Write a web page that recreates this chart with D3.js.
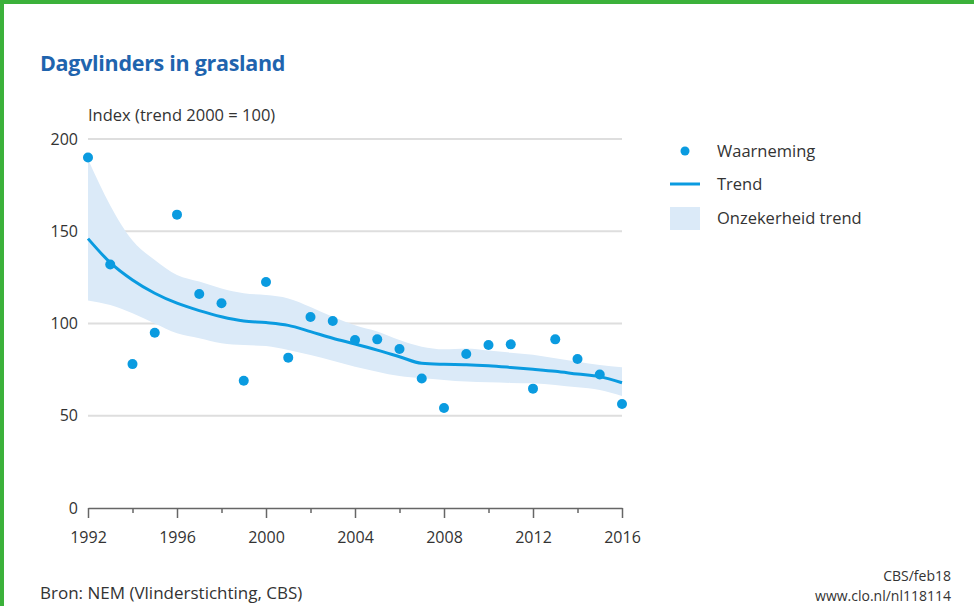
<!DOCTYPE html>
<html>
<head>
<meta charset="utf-8">
<script src="https://cdn.jsdelivr.net/npm/d3@7"></script>
<style>
    body { margin: 0; background: #fff; }
    text { font-family: "Open Sans", "Noto Sans", sans-serif; fill: #333; }
</style>
</head>
<body>
<svg id="chart" width="974" height="606"></svg>
<script>
// observed index per year
const years = d3.range(1992, 2017);
const observed = [190, 132, 78, 95, 159, 116, 111, 69, 122.5, 81.5, 103.5, 101.4, 91, 91.4, 86.2,
    70.2, 54.2, 83.5, 88.3, 88.7, 64.7, 91.4, 80.8, 72.4, 56.4];
const trend = [146, 133, 123.6, 116.4, 111, 107, 103.7, 101.4, 100.5, 99, 95.6, 92, 88.9, 85.6, 82,
    78.4, 77.9, 77.7, 77.1, 76.2, 75.2, 74.1, 72.6, 71.2, 67.9];
const upper = [189, 164, 145, 134.4, 126.3, 122.7, 119, 116.4, 115.4, 113.6, 109, 103.7, 99, 95.6, 91,
    87.4, 86, 86.5, 85.3, 84.2, 83, 81.1, 79.3, 77.5, 76.3];
const lower = [112.5, 110, 105.5, 100, 94.7, 92, 89.3, 88.3, 87.8, 85.6, 82.9, 79.8, 76.6, 73.9, 71.5,
    70.3, 69.4, 68.5, 68.1, 67.8, 67.6, 66.7, 65.4, 64, 60.7];
const yTicks = [0, 50, 100, 150, 200];
const xMajor = [1992, 1996, 2000, 2004, 2008, 2012, 2016];
const legendItems = ["Waarneming", "Trend", "Onzekerheid trend"];

const blue = "#0a9be0";
const band = "#dbeaf8";

let svg = d3.select("#chart");

// green frame on the top and left
svg.append("rect").attr("x", 0).attr("y", 0).attr("width", 974).attr("height", 4).attr("fill", "#3bb13a");
svg.append("rect").attr("x", 0).attr("y", 0).attr("width", 4).attr("height", 606).attr("fill", "#3bb13a");

let x = d3.scaleLinear().domain([1992, 2016]).range([88, 622]);
let y = d3.scaleLinear().domain([0, 200]).range([508, 139]);

// title
svg.append("text")
    .attr("x", 40).attr("y", 71)
    .attr("font-size", "21.5px")
    .attr("font-weight", "bold")
    .style("fill", "#1f64ae")
    .style("letter-spacing", "-0.3px")
    .text("Dagvlinders in grasland");

svg.append("text")
    .attr("x", 88).attr("y", 121)
    .attr("font-size", "16.5px")
    .text("Index (trend 2000 = 100)");

// grid
svg.append("g").selectAll("line")
    .data(yTicks.filter(d => d > 0))
    .join("line")
    .attr("x1", x(1992)).attr("x2", x(2016))
    .attr("y1", d => y(d)).attr("y2", d => y(d))
    .attr("stroke", "#dedede").attr("stroke-width", 2);

// y labels
svg.append("g").selectAll("text")
    .data(yTicks)
    .join("text")
    .attr("x", 78).attr("y", d => y(d))
    .attr("dy", "0.35em")
    .attr("text-anchor", "end")
    .attr("font-size", "16px")
    .text(d => d);

// uncertainty band
let area = d3.area()
    .x((d, i) => x(years[i]))
    .y0((d, i) => y(lower[i]))
    .y1((d, i) => y(upper[i]))
    .curve(d3.curveMonotoneX);
svg.append("path").datum(years).attr("d", area).attr("fill", band);

// trend
let line = d3.line()
    .x((d, i) => x(years[i]))
    .y((d, i) => y(trend[i]))
    .curve(d3.curveMonotoneX);
svg.append("path").datum(years).attr("d", line)
    .attr("fill", "none").attr("stroke", blue).attr("stroke-width", 3);

// observations
svg.append("g").selectAll("circle")
    .data(years)
    .join("circle")
    .attr("cx", d => x(d))
    .attr("cy", (d, i) => y(observed[i]))
    .attr("r", 5)
    .attr("fill", blue);

// x axis
let xAxis = svg.append("g")
    .attr("transform", `translate(0,${y(0)})`)
    .call(d3.axisBottom(x)
        .tickValues(d3.range(1992, 2017, 2))
        .tickSize(10)
        .tickSizeOuter(0)
        .tickFormat(d => xMajor.includes(d) ? d : ""));
xAxis.select(".domain").attr("stroke", "#666").attr("stroke-width", 1.5);
xAxis.selectAll(".tick line")
    .attr("stroke", "#666").attr("stroke-width", 1.5)
    .attr("y2", d => xMajor.includes(d) ? 10 : 5);
xAxis.selectAll(".tick text")
    .attr("y", 24)
    .attr("font-size", "16px")
    .attr("font-family", null)
    .style("fill", "#333");

// legend
let lg = svg.append("g");
lg.append("circle").attr("cx", 685).attr("cy", 151).attr("r", 4.5).attr("fill", blue);
lg.append("line").attr("x1", 670).attr("x2", 700).attr("y1", 184).attr("y2", 184)
    .attr("stroke", blue).attr("stroke-width", 3);
lg.append("rect").attr("x", 670).attr("y", 207).attr("width", 30).attr("height", 23).attr("fill", band);
lg.selectAll("text")
    .data(legendItems)
    .join("text")
    .attr("x", 717)
    .attr("y", (d, i) => 151 + i * 33.5)
    .attr("dy", "0.35em")
    .attr("font-size", "16.5px")
    .text(d => d);

// sources
svg.append("text")
    .attr("x", 40).attr("y", 599)
    .attr("font-size", "17px")
    .text("Bron: NEM (Vlinderstichting, CBS)");
svg.append("text")
    .attr("x", 951).attr("y", 581)
    .attr("text-anchor", "end")
    .attr("font-size", "14px")
    .text("CBS/feb18");
svg.append("text")
    .attr("x", 951).attr("y", 601)
    .attr("text-anchor", "end")
    .attr("font-size", "14px")
    .text("www.clo.nl/nl118114");
</script>
</body>
</html>
